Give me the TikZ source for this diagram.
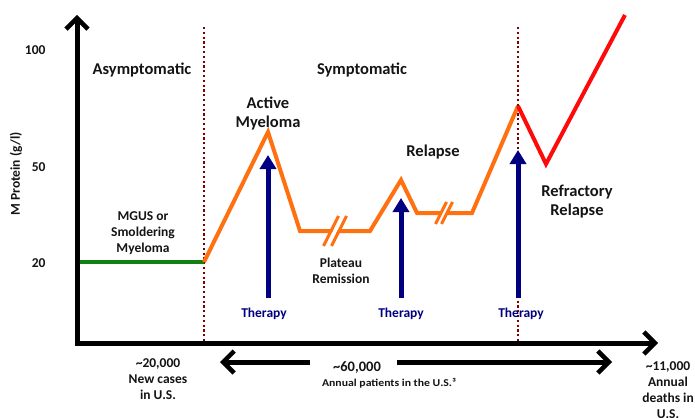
\documentclass[tikz,border=0pt]{standalone}
\usepackage{fontspec}
\setmainfont{Carlito}
\usepackage{graphicx}
\usepackage{tikz}
\usetikzlibrary{arrows.meta}
\definecolor{cOrange}{RGB}{255,112,16}
\definecolor{cRed}{RGB}{255,10,10}
\definecolor{cGreen}{RGB}{16,128,16}
\definecolor{cNavy}{RGB}{0,0,128}
\definecolor{cDots}{RGB}{128,0,0}
\definecolor{cInk}{RGB}{20,20,20}
\tikzset{
	axisline/.style={line width=5pt, draw=black, >={Straight Barb[length=11pt, width=22pt, line width=4.5pt]}},
	stage/.style   ={line width=4pt, line join=miter},
	phase/.style   ={draw=cDots, line width=2.4pt, dash pattern=on 2.2pt off 2.6pt},
	therapy/.style ={draw=cNavy, line width=5pt, -{Triangle[length=14pt, width=16pt]}},
	bigLbl/.style  ={font=\fontsize{16.5}{19}\selectfont\bfseries, text=cInk, align=center},
	midLbl/.style  ={font=\fontsize{13.5}{16}\selectfont\bfseries, text=cInk, align=center},
	thLbl/.style   ={font=\fontsize{13.5}{16}\selectfont\bfseries, text=cNavy},
	tickLbl/.style ={font=\fontsize{13.5}{15}\selectfont\bfseries, text=cInk, anchor=east},
	% break marks on the plateau lines
	brk/.style     ={draw=cOrange, line width=3pt},
	brkgap/.style  ={draw=white, line width=4pt},
}
\begin{document}
\begin{tikzpicture}[x=1pt, y=-1pt]
	\useasboundingbox (0,0) rectangle (695,417);
	% points of the M protein course
	\coordinate (origin) at (77,343);
	\coordinate (yTop) at (77,15);
	\coordinate (xEnd) at (658,343);
	\coordinate (mgusStart) at (77,262);
	\coordinate (mStart) at (204,262);
	\coordinate (mPeak) at (268,132);
	\coordinate (mPlatA) at (300,231);
	\coordinate (mPlatB) at (370,231);
	\coordinate (mRel) at (401,180);
	\coordinate (mPlatC) at (417,213);
	\coordinate (mPlatD) at (472,213);
	\coordinate (mTop) at (518,106);
	\coordinate (mDip) at (546,164);
	\coordinate (mEnd) at (625,15);
	% phase boundaries
	\coordinate (phaseAtop) at (204,27);
	\coordinate (phaseAbot) at (204,343);
	\coordinate (phaseBtop) at (518,27);
	\coordinate (phaseBbot) at (518,343);
	\draw[phase] (phaseAtop) -- (phaseAbot);
	\draw[phase] (phaseBtop) -- (phaseBbot);

	\node[bigLbl] (asym) at (142,70) {Asymptomatic};
	\node[bigLbl] (sym) at (362,70) {Symptomatic};
	\node[bigLbl] (active) at (268,113) {Active\\Myeloma};
	\node[bigLbl] (relapse) at (433,152) {Relapse};
	\node[bigLbl] (refract) at (577,202) {Refractory\\Relapse};
	\node[midLbl] (mgus) at (143,233) {MGUS or\\Smoldering\\Myeloma};
	\node[midLbl] (plateau) at (341,271) {Plateau\\Remission};

	\node[tickLbl] (t100) at (49,50) {100};
	\node[tickLbl] (t50) at (49,167) {50};
	\node[tickLbl] (t20) at (49,263) {20};
	\node[font=\fontsize{13.5}{15}\selectfont\bfseries, text=cInk, rotate=90] (yLbl) at (16,174) {M Protein (g/l)};

	\draw[stage, draw=cGreen] (mgusStart) -- (mStart);
	\draw[stage, draw=cOrange] (mStart) -- (mPeak) -- (mPlatA) -- (mPlatB) -- (mRel) -- (mPlatC) -- (mPlatD) -- (mTop);
	\draw[stage, draw=cRed] (mTop) -- (mDip) -- (mEnd);
	\foreach \bx/\by/\bh/\bo in {335/231/15/4, 444/213/11/3} {
		\draw[brkgap] ({\bx-0.5*\bh},{\by+\bh}) -- ({\bx+0.5*\bh},{\by-\bh});
		\draw[brk] ({\bx-\bo-0.5*\bh},{\by+\bh}) -- ({\bx-\bo+0.5*\bh},{\by-\bh});
		\draw[brk] ({\bx+\bo-0.5*\bh},{\by+\bh}) -- ({\bx+\bo+0.5*\bh},{\by-\bh});
	}

	% therapy arrows
	\coordinate (thBaseA) at (268,298);
	\coordinate (thTipA) at (268,155);
	\coordinate (thBaseB) at (401,298);
	\coordinate (thTipB) at (401,198);
	\coordinate (thBaseC) at (518,298);
	\coordinate (thTipC) at (518,150);
	\draw[therapy] (thBaseA) -- (thTipA);
	\draw[therapy] (thBaseB) -- (thTipB);
	\draw[therapy] (thBaseC) -- (thTipC);
	\node[thLbl] (thA) at (264,314) {Therapy};
	\node[thLbl] (thB) at (401,314) {Therapy};
	\node[thLbl] (thC) at (521,314) {Therapy};

	\draw[axisline, <->] (yTop) -- (origin) -- (xEnd);

	% patient numbers below the time axis
	\node[midLbl] (newCases) at (158,379) {\textasciitilde20,000\\New cases\\in U.S.};
	\node[midLbl, font=\fontsize{14.5}{16}\selectfont\bfseries] (prev) at (357,368) {\textasciitilde60,000};
	\node[font=\fontsize{10.5}{12}\selectfont\bfseries, text=cInk] (prevNote) at (389,383) {\scalebox{1.12}[1]{Annual patients in the U.S.³}};
	\node[midLbl] (deaths) at (668,390) {\textasciitilde11,000\\Annual\\deaths in\\U.S.};
	\coordinate (gapL) at (310,362);
	\coordinate (gapR) at (397,362);
	\coordinate (tipL) at (220,362);
	\coordinate (tipR) at (612,362);
	\draw[axisline, ->] (gapL) -- (tipL);
	\draw[axisline, ->] (gapR) -- (tipR);
\end{tikzpicture}
\end{document}
